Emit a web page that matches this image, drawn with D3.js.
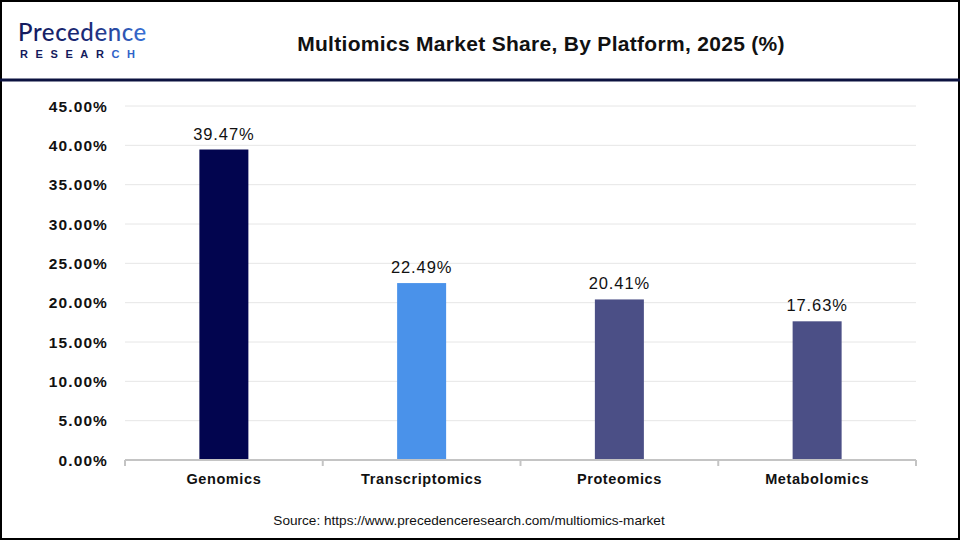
<!DOCTYPE html>
<html lang="en">
<head>
<meta charset="UTF-8">
<title>Multiomics Market Share</title>
<script src="https://d3js.org/d3.v7.min.js"></script>
<style>
    html, body { margin: 0; padding: 0; background: #fff; }
    svg { display: block; font-family: Arial, "Liberation Sans", sans-serif; }
</style>
</head>
<body>
<svg id="chart" width="960" height="540"></svg>
<script>
// data
const platforms = ["Genomics", "Transcriptomics", "Proteomics", "Metabolomics"];
const shares = [39.47, 22.49, 20.41, 17.63];
const barColors = ["#02054f", "#4a92ea", "#4b4f86", "#4b4f86"];
const yTicks = [0, 5, 10, 15, 20, 25, 30, 35, 40, 45];

const svg = d3.select("#chart");
const W = 960, H = 540;

// frame + header
svg.append("rect").attr("x", 1).attr("y", 1).attr("width", W - 2).attr("height", H - 2)
    .attr("fill", "#fff").attr("stroke", "#000").attr("stroke-width", 2);
svg.append("line").attr("x1", 0).attr("x2", W).attr("y1", 80).attr("y2", 80)
    .attr("stroke", "#0c1240").attr("stroke-width", 3);

// logo
const grad = svg.append("defs").append("linearGradient").attr("id", "logoGrad");
grad.append("stop").attr("offset", "0%").attr("stop-color", "#141a5c");
grad.append("stop").attr("offset", "55%").attr("stop-color", "#1d2a78");
grad.append("stop").attr("offset", "100%").attr("stop-color", "#3a72d8");
const logo = svg.append("g");
logo.append("text").attr("x", 18).attr("y", 41)
    .attr("font-size", 24).attr("font-weight", 500).attr("fill", "url(#logoGrad)")
    .attr("letter-spacing", 0.6)
    .attr("font-family", "Lato, Arial, sans-serif")
    .text("Precedence");
const r = logo.append("text").attr("x", 20).attr("y", 58)
    .attr("font-size", 11).attr("font-weight", 700).attr("fill", "#141a5c")
    .attr("letter-spacing", 7.6);
r.append("tspan").text("RESEAR");
r.append("tspan").attr("fill", "#2f62c8").text("CH");

svg.append("text").attr("x", 541).attr("y", 51).attr("text-anchor", "middle")
    .attr("font-size", 21).attr("font-weight", 700).attr("fill", "#111")
    .attr("letter-spacing", 0.3)
    .text("Multiomics Market Share, By Platform, 2025 (%)");

// scales
const x = d3.scaleBand().domain(platforms).range([125, 916]).paddingInner(0).paddingOuter(0);
const y = d3.scaleLinear().domain([0, 45]).range([460, 106]);
const barW = 49;

// grid
svg.append("g").selectAll("line").data(yTicks.slice(1)).join("line")
    .attr("x1", 125).attr("x2", 916)
    .attr("y1", d => y(d)).attr("y2", d => y(d))
    .attr("stroke", "#e6e6e6").attr("stroke-width", 1);

// y labels
svg.append("g").selectAll("text").data(yTicks).join("text")
    .attr("x", 108).attr("y", d => y(d) + 5.5)
    .attr("text-anchor", "end").attr("font-size", 15.5).attr("font-weight", 700).attr("fill", "#111")
    .attr("letter-spacing", 1.1)
    .text(d => d.toFixed(2) + "%");

// bars
svg.append("g").selectAll("rect").data(platforms).join("rect")
    .attr("x", d => x(d) + x.bandwidth() / 2 - barW / 2)
    .attr("width", barW)
    .attr("y", (d, i) => y(shares[i]))
    .attr("height", (d, i) => y(0) - y(shares[i]))
    .attr("fill", (d, i) => barColors[i]);

// value labels
svg.append("g").selectAll("text").data(platforms).join("text")
    .attr("x", d => x(d) + x.bandwidth() / 2)
    .attr("y", (d, i) => y(shares[i]) - 10)
    .attr("text-anchor", "middle").attr("font-size", 16.5).attr("font-weight", 500).attr("fill", "#111")
    .attr("letter-spacing", 0.9)
    .text((d, i) => shares[i].toFixed(2) + "%");

// x axis
const xAxis = svg.append("g");
xAxis.append("line").attr("x1", 125).attr("x2", 916).attr("y1", 460).attr("y2", 460)
    .attr("stroke", "#c4c4c4").attr("stroke-width", 2);
const bounds = platforms.map(d => x(d)).concat([x.range()[1]]);
xAxis.selectAll("line.tick").data(bounds).join("line").attr("class", "tick")
    .attr("x1", d => d).attr("x2", d => d).attr("y1", 460).attr("y2", 466)
    .attr("stroke", "#c4c4c4").attr("stroke-width", 2);
xAxis.selectAll("text").data(platforms).join("text")
    .attr("x", d => x(d) + x.bandwidth() / 2).attr("y", 484)
    .attr("text-anchor", "middle").attr("font-size", 14.5).attr("font-weight", 700)
    .attr("letter-spacing", 0.6).attr("fill", "#111")
    .text(d => d);

svg.append("text").attr("x", 469).attr("y", 525).attr("text-anchor", "middle")
    .attr("font-size", 13.6).attr("fill", "#111")
    .text("Source: https://www.precedenceresearch.com/multiomics-market");
</script>
</body>
</html>
